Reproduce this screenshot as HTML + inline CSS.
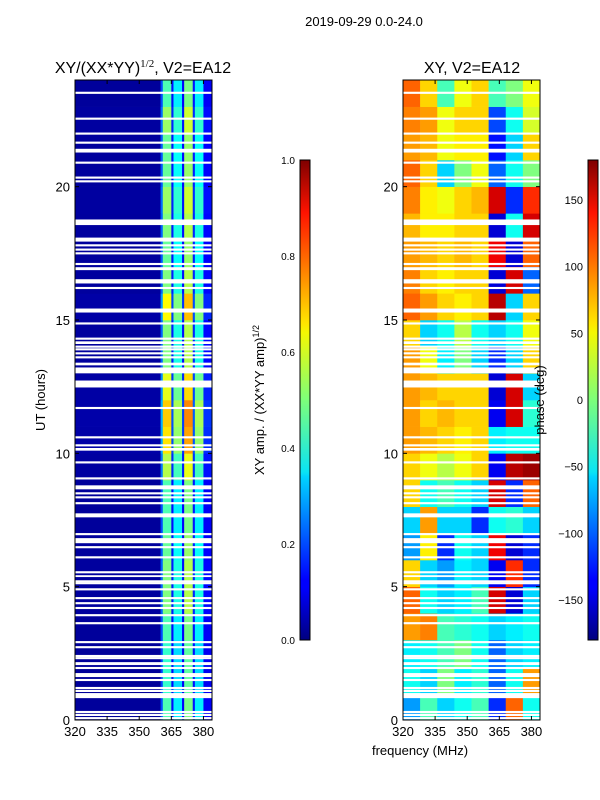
<!DOCTYPE html>
<html><head><meta charset="utf-8"><style>
body{margin:0;background:#fff;}
svg{display:block;font-family:"Liberation Sans",sans-serif;}
</style></head><body>
<svg id="fig" width="600" height="800" xmlns="http://www.w3.org/2000/svg">
<defs>
<linearGradient id="jetV" x1="0" y1="1" x2="0" y2="0">
<stop offset="0" stop-color="#00007f"/><stop offset="0.11" stop-color="#0000ff"/><stop offset="0.125" stop-color="#0000ff"/>
<stop offset="0.34" stop-color="#00d4ff"/><stop offset="0.35" stop-color="#0ae4f4"/><stop offset="0.5" stop-color="#7dff7a"/>
<stop offset="0.64" stop-color="#f4f802"/><stop offset="0.66" stop-color="#ffe600"/><stop offset="0.89" stop-color="#ff1300"/>
<stop offset="1" stop-color="#7f0000"/></linearGradient>
</defs>
<text x="364" y="26" font-size="13" text-anchor="middle">2019-09-29 0.0-24.0</text>
<text x="143" y="73" font-size="16" text-anchor="middle">XY/(XX*YY)<tspan font-family="Liberation Serif" font-size="11" dy="-6">1/2</tspan><tspan dy="6">, V2=EA12</tspan></text>
<text x="472" y="73" font-size="16" text-anchor="middle">XY, V2=EA12</text>
<g id="left"></g>
<g id="right"></g>
<g id="axes"></g>
<text transform="translate(45,400) rotate(-90)" font-size="13" text-anchor="middle">UT (hours)</text>
<text x="420" y="755" font-size="13" text-anchor="middle">frequency (MHz)</text>
<rect x="300" y="160" width="10" height="480" fill="url(#jetV)" stroke="#000" stroke-width="1"/>
<rect x="588" y="160" width="10" height="480" fill="url(#jetV)" stroke="#000" stroke-width="1"/>
<text transform="translate(264,400) rotate(-90)" font-size="13" text-anchor="middle">XY amp. / (XX*YY amp)<tspan font-size="9" dy="-5">1/2</tspan></text>
<text transform="translate(544,400) rotate(-90)" font-size="13" text-anchor="middle">phase (deg)</text>
</svg>
<script>
const ampBinEdges=[320,360,361,365,366,370,371,375,376,380,384];
const ampBinValues=[0.03,0.22,0.5,0.15,0.4,0.14,0.55,0.16,0.4,0.13];
const hourFactor=[0.9,0.85,0.85,0.9,1.0,1.0,0.95,0.9,0.9,1.1,1.3,1.35,1.2,1.0,1.0,1.25,1.0,0.95,1.0,1.05,0.95,0.95,1.05,0.9];
const phaseBinEdges=[320,328,336,344,352,360,368,376,384];
const phaseGrid=[
[-80,-20,-60,-40,-20,-120,100,-40],
[-40,-60,0,-50,-30,-100,-40,80],
[-50,-40,-20,0,-40,-100,-60,-50],
[80,90,-20,-30,-40,-60,-50,-40],
[100,-40,-60,-50,-20,150,-150,-60],
[60,-60,-80,-50,-60,-140,120,-120],
[-80,50,-120,-40,-60,140,-150,-120],
[-60,80,-60,-60,-120,-40,-30,-60],
[60,-40,-20,-40,-60,150,-120,100],
[60,40,20,40,60,-140,160,170],
[80,70,60,50,60,-50,-40,-40],
[80,60,70,60,60,-140,150,-30],
[80,70,60,60,60,-150,150,-60],
[80,40,-50,0,-60,-120,-60,60],
[60,-60,-40,20,-40,-60,-40,40],
[100,80,60,50,60,160,-60,60],
[90,60,50,60,60,-150,150,-100],
[80,70,60,70,60,140,-150,100],
[70,50,50,60,60,-150,-40,150],
[90,50,40,60,70,150,-120,120],
[100,60,-60,0,40,-100,-40,0],
[80,70,40,50,50,-130,-60,60],
[90,80,40,60,60,-110,-40,30],
[100,60,-20,40,60,-20,0,40]];
const gaps=[[23.48,23.56],[22.51,22.59],[21.95,22.03],[21.61,21.69],[21.28,21.42],[20.86,20.94],[20.3,20.38],[20.16,20.24],[18.56,18.77],[17.94,18.09],[17.76,17.84],[17.6,17.68],[17.46,17.54],[17.06,17.14],[16.87,16.98],[16.37,16.53],[16.16,16.24],[15.28,15.43],[14.83,14.91],[14.26,14.34],[14.1,14.2],[13.96,14.04],[13.86,13.94],[13.71,13.79],[13.56,13.64],[13.3,13.4],[13.0,13.22],[12.47,12.73],[11.66,11.74],[10.56,10.64],[10.26,10.34],[10.1,10.2],[9.62,9.7],[9.02,9.1],[8.65,8.8],[8.46,8.54],[8.31,8.39],[8.09,8.17],[7.6,7.75],[6.93,7.01],[6.63,6.82],[6.44,6.52],[6.06,6.14],[5.5,5.58],[5.36,5.43],[5.16,5.24],[5.09,5.17],[4.86,4.94],[4.53,4.61],[4.34,4.42],[4.16,4.24],[3.89,3.97],[3.59,3.67],[2.88,2.96],[2.69,2.77],[2.36,2.44],[2.28,2.36],[2.06,2.17],[1.91,1.99],[1.61,1.76],[1.46,1.54],[1.16,1.24],[1.05,1.13],[0.82,1.01],[0.26,0.34],[0.15,0.23],[0.03,0.11]];
const utTicks=[0,5,10,15,20];
const freqTicks=[320,335,350,365,380];
const ampTicks=[0.0,0.2,0.4,0.6,0.8,1.0];
const phaseTicks=[-150,-100,-50,0,50,100,150];

const NS='http://www.w3.org/2000/svg';
function jet(v){v=Math.max(0,Math.min(1,v));
 const c=x=>Math.round(255*Math.max(0,Math.min(1,x)));
 const r=c(1.5-Math.abs(4*v-3)),g=c(1.5-Math.abs(4*v-2)),b=c(1.5-Math.abs(4*v-1));
 return `rgb(${r},${g},${b})`;}
const Y=ut=>720-ut*(640/24);
const Xl=f=>75+(f-320)*(137/64);
const Xr=f=>403+(f-320)*(137/64);
function mk(tag,attrs,parent){const e=document.createElementNS(NS,tag);for(const k in attrs)e.setAttribute(k,attrs[k]);parent.appendChild(e);return e;}
const L=document.getElementById('left'),R=document.getElementById('right'),A=document.getElementById('axes');
for(let h=0;h<24;h++){
 for(let i=0;i<ampBinValues.length;i++){
  const r=mk('rect',{x:Xl(ampBinEdges[i]),y:Y(h+1),width:Xl(ampBinEdges[i+1])-Xl(ampBinEdges[i])+0.3,height:Y(h)-Y(h+1)+0.3,fill:jet(ampBinValues[i]*hourFactor[h])},L);
  
  
 }
 for(let i=0;i<8;i++){
  const r=mk('rect',{x:Xr(phaseBinEdges[i]),y:Y(h+1),width:Xr(phaseBinEdges[i+1])-Xr(phaseBinEdges[i])+0.3,height:Y(h)-Y(h+1)+0.3,fill:jet((phaseGrid[h][i]+180)/360)},R);
  
  
 }
}
for(const g of gaps){
 for(const X of [Xl,Xr]){
  const r=mk('rect',{x:X(320),y:Y(g[1]),width:137,height:Math.max(1.5,Y(g[0])-Y(g[1])),fill:'#fff'},A);
  
  
 }
}
for(const X of [Xl,Xr]){
 const fr=mk('rect',{x:X(320),y:80,width:137,height:640,fill:'none',stroke:'#000','stroke-width':1},A);
 
 
 for(const t of utTicks){
  mk('line',{x1:X(320),x2:X(320)+4,y1:Y(t),y2:Y(t),stroke:'#000'},A);
  mk('line',{x1:X(384)-4,x2:X(384),y1:Y(t),y2:Y(t),stroke:'#000'},A);
  const tx=mk('text',{x:X(320)-5,y:Y(t)+5,'font-size':13,'text-anchor':'end'},A);
  tx.textContent=t;
  
  
 }
 for(const f of freqTicks){
  mk('line',{x1:X(f),x2:X(f),y1:720,y2:716,stroke:'#000'},A);
  mk('line',{x1:X(f),x2:X(f),y1:80,y2:84,stroke:'#000'},A);
  const tx=mk('text',{x:X(f),y:736,'font-size':13,'text-anchor':'middle'},A);
  tx.textContent=f;
  
  
 }
}
for(const t of ampTicks){
 const y=640-t*480;
 mk('line',{x1:300,x2:303,y1:y,y2:y,stroke:'#000'},A);mk('line',{x1:307,x2:310,y1:y,y2:y,stroke:'#000'},A);
 const tx=mk('text',{x:295,y:y+4,'font-size':10,'text-anchor':'end'},A);
 tx.textContent=t.toFixed(1);
 
 
}
for(const t of phaseTicks){
 const y=640-(t+180)/360*480;
 mk('line',{x1:588,x2:591,y1:y,y2:y,stroke:'#000'},A);mk('line',{x1:595,x2:598,y1:y,y2:y,stroke:'#000'},A);
 const tx=mk('text',{x:583,y:y+4,'font-size':11,'text-anchor':'end'},A);
 tx.textContent=t<0?'\u2212'+Math.abs(t):t;
 
 
}
</script>
</body></html>
